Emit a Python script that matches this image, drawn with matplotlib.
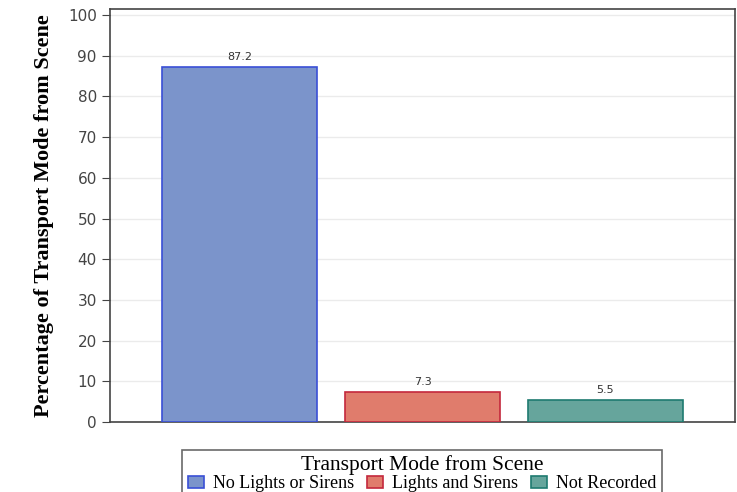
import matplotlib.pyplot as plt
from matplotlib.patches import Patch

categories = ['No Lights or Sirens', 'Lights and Sirens', 'Not Recorded']
percent = [87.2, 7.3, 5.5]
labels = ['87.2', '7.3', '5.5']
fills = ['#7b94cb', '#e07c6c', '#66a59c']
edges = ['#3a4fd6', '#c4283c', '#1e7a70']

fig = plt.figure(figsize=(7.37, 4.92), dpi=100)
ax = fig.add_axes([110 / 737, 70 / 492, 625 / 737, 413 / 492])

x = range(len(categories))
bars = ax.bar(x, percent, width=0.85, color=fills, edgecolor=edges, linewidth=1.2, zorder=3)
for b, t in zip(bars, labels):
    ax.text(b.get_x() + b.get_width() / 2, b.get_height() + 1.2, t,
            ha='center', va='bottom', fontsize=8, color='#333333')

ax.set_xlim(-0.71, 2.71)
ax.set_ylim(0, 101.5)
ax.set_yticks(range(0, 101, 10))
ax.set_xticks([])
ax.grid(axis='y', color='#ebebeb', linewidth=1, zorder=0)
for s in ax.spines.values():
    s.set_color('#444444')
    s.set_linewidth(1.2)
ax.tick_params(axis='y', direction='out', length=6, labelsize=11, labelcolor='#444444', color='#444444')

ax.set_ylabel('Percentage of Transport Mode from Scene', family='Liberation Serif',
              fontweight='bold', fontsize=16, labelpad=10)

handles = [Patch(facecolor=f, edgecolor=e, linewidth=1.2) for f, e in zip(fills, edges)]
leg = fig.legend(handles, categories, title='Transport Mode from Scene', ncol=3,
                 loc='upper center', bbox_to_anchor=(422 / 737, 1 - 441 / 492),
                 prop={'family': 'Liberation Serif', 'size': 13},
                 title_fontproperties={'family': 'Liberation Serif', 'size': 15.5},
                 frameon=True, fancybox=False, edgecolor='#444444',
                 handlelength=0.9, handleheight=0.7, handletextpad=0.5,
                 columnspacing=0.7, borderpad=0.3, labelspacing=0.0)
leg.get_frame().set_linewidth(1.2)

fig.savefig('out.png', dpi=100)
